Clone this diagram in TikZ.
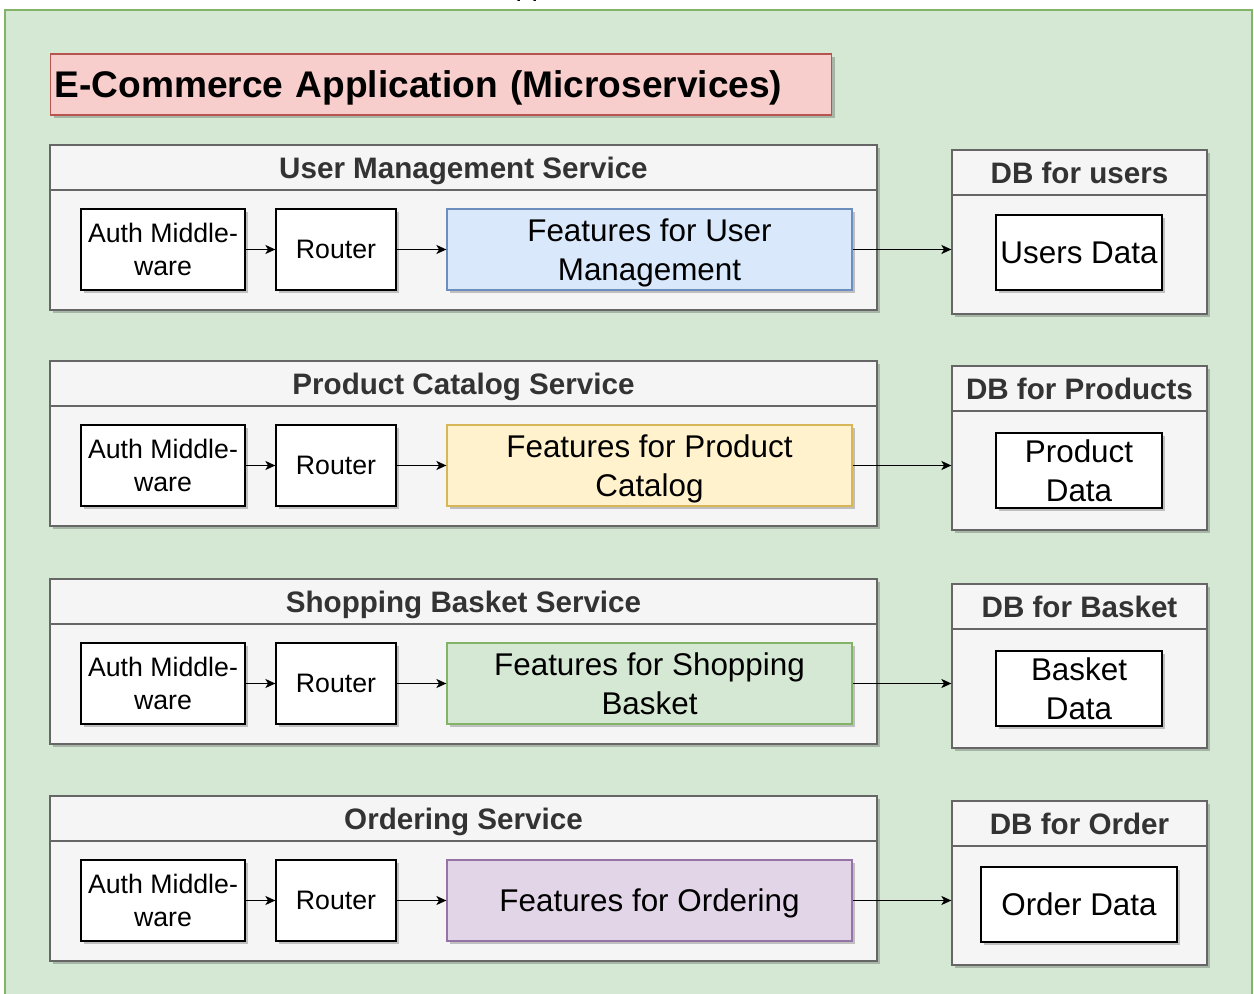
\documentclass[tikz,border=0pt]{standalone}
\usepackage{fontspec}
\setmainfont{Liberation Sans}
\usetikzlibrary{shadows,arrows.meta}
\definecolor{outerfill}{HTML}{D5E8D4}
\definecolor{outerdraw}{HTML}{82B366}
\definecolor{titlefill}{HTML}{F8CECC}
\definecolor{titledraw}{HTML}{B85450}
\definecolor{lanefill}{HTML}{F5F5F5}
\definecolor{lanedraw}{HTML}{666666}
\definecolor{lanetext}{HTML}{333333}
\definecolor{bluefill}{HTML}{DAE8FC}
\definecolor{bluedraw}{HTML}{6C8EBF}
\definecolor{yellowfill}{HTML}{FFF2CC}
\definecolor{yellowdraw}{HTML}{D6B656}
\definecolor{greenfill}{HTML}{D5E8D4}
\definecolor{greendraw}{HTML}{82B366}
\definecolor{purplefill}{HTML}{E1D5E7}
\definecolor{purpledraw}{HTML}{9673A6}
\newdimen\upx \upx=0.5pt
\tikzset{
  shad/.style={drop shadow={shadow xshift=1.5pt,shadow yshift=-1.5pt,opacity=0.22,fill=black}},
  lanebody/.style={draw=lanedraw,fill=lanefill,line width=0.6pt,shad,minimum width=827\upx,minimum height=165\upx,inner sep=0},
  lanehead/.style={draw=lanedraw,fill=lanefill,line width=0.6pt,minimum width=827\upx,minimum height=45\upx,inner sep=0,text=lanetext,text depth=0pt,font=\bfseries\fontsize{14.8pt}{17pt}\selectfont},
  dbbody/.style={draw=lanedraw,fill=lanefill,line width=0.6pt,shad,minimum width=255\upx,minimum height=164\upx,inner sep=0},
  dbhead/.style={draw=lanedraw,fill=lanefill,line width=0.6pt,minimum width=255\upx,minimum height=45\upx,inner sep=0,text=lanetext,text depth=0pt,font=\bfseries\fontsize{14.8pt}{17pt}\selectfont},
  smallbox/.style={draw=black,fill=white,line width=0.6pt,shad,minimum height=81\upx,inner sep=0,align=center,text depth=0pt,font=\fontsize{13.35pt}{16.5pt}\selectfont},
  featbox/.style={line width=0.6pt,shad,minimum width=405\upx,minimum height=81\upx,inner sep=0,align=center,text depth=0pt,font=\fontsize{15.7pt}{19.5pt}\selectfont},
  databox/.style={draw=black,fill=white,line width=0.6pt,shad,minimum height=75\upx,inner sep=0,align=center,text depth=0pt,font=\fontsize{15.7pt}{19.5pt}\selectfont},
  arr/.style={-{Stealth[length=5pt,width=4.5pt,inset=1.3pt]},line width=0.7pt,draw=black},
}
% #1 prefix, #2 top y, #3 service title, #4 feature text, #5 colour name, #6 db title, #7 data text, #8 data width, #9 data centre offset
\newcommand\servicerow[9]{%
  \node[lanebody] (#1svc) at (463.5,{#2+82.5}) {};
  \node[lanehead] (#1head) at (463.5,{#2+22.5}) {#3};
  \node[smallbox,minimum width=164\upx] (#1auth) at (163,{#2+104.5}) {Auth Middle-\\ware};
  \node[smallbox,minimum width=120\upx] (#1router) at (336,{#2+104.5}) {Router};
  \node[featbox,draw=#5draw,fill=#5fill] (#1feat) at (649.5,{#2+104.5}) {#4};
  \node[dbbody] (#1db) at (1079.5,{#2+87}) {};
  \node[dbhead] (#1dbhead) at (1079.5,{#2+27.5}) {#6};
  \node[databox,minimum width=#8\upx] (#1data) at (1079,{#2+#9}) {#7};
  \draw[arr] (#1auth) -- (#1router);
  \draw[arr] (#1router) -- (#1feat);
  \draw[arr] (#1feat.east) -- (#1feat.east -| #1db.west);
}
\begin{document}
\begin{tikzpicture}[x=0.5pt,y=-0.5pt]
\useasboundingbox (0,0) rectangle (1254,994);
\draw[draw=outerdraw,fill=outerfill,line width=0.8pt] (5,10) rectangle (1252,1012);
\node[anchor=base west,inner sep=0,font=\fontsize{14.4pt}{17pt}\selectfont] (toplabel) at (496,-4) {Application};
\node[draw=titledraw,fill=titlefill,line width=0.6pt,shad,anchor=west,inner xsep=4\upx,inner ysep=0,text width=773\upx,minimum height=61\upx,align=left,text depth=0pt,font=\bfseries\fontsize{18.55pt}{22pt}\selectfont] (title) at (50,84.5) {E-Commerce Application (Microservices)};
\servicerow{u}{145}{User Management Service}{Features for User\\Management}{blue}{DB for users}{Users Data}{166}{107.5}
\servicerow{p}{361}{Product Catalog Service}{Features for Product\\Catalog}{yellow}{DB for Products}{Product\\Data}{166}{109.5}
\servicerow{b}{579}{Shopping Basket Service}{Features for Shopping\\Basket}{green}{DB for Basket}{Basket\\Data}{166}{109.5}
\servicerow{o}{796}{Ordering Service}{Features for Ordering}{purple}{DB for Order}{Order Data}{196}{108.5}
\end{tikzpicture}
\end{document}
